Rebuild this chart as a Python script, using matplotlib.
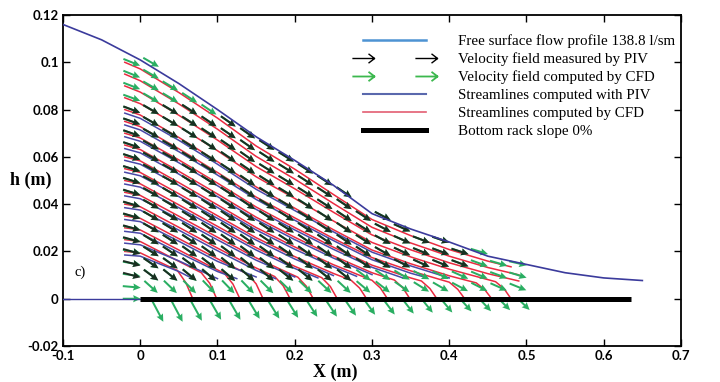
import numpy as np
import matplotlib
matplotlib.use("Agg")
import matplotlib.pyplot as plt
from matplotlib.lines import Line2D
from matplotlib.path import Path
from matplotlib.ticker import FuncFormatter, MultipleLocator
from matplotlib.font_manager import FontProperties

# ---------------- data ----------------
# free surface profile (m)
surface_x = [-0.1, -0.05, 0.0, 0.05, 0.1, 0.15, 0.2, 0.25, 0.3, 0.35, 0.4, 0.45, 0.5, 0.55, 0.6, 0.65]
surface_h = [0.116, 0.1095, 0.101, 0.091, 0.080, 0.0685, 0.0585, 0.048, 0.036, 0.0295, 0.024,
             0.018, 0.0145, 0.011, 0.0088, 0.0077]

# channel bed upstream of the rack and the bottom rack itself
bed_x = [-0.1, 0.0]
bed_h = [0.0, 0.0]
rack_x = [0.0, 0.635]
rack_h = [0.0, 0.0]

# velocity grid (arrow centres)
col_x = [-0.011, 0.014, 0.039, 0.064, 0.089, 0.114, 0.139, 0.164, 0.189, 0.214, 0.239,
         0.264, 0.289, 0.314, 0.339, 0.364, 0.389, 0.414, 0.439, 0.464, 0.489]
row_y = [0.0, 0.005, 0.01, 0.015, 0.02, 0.025, 0.03, 0.035, 0.04, 0.045, 0.05,
         0.055, 0.06, 0.065, 0.07, 0.075, 0.08, 0.085, 0.09, 0.095, 0.1]

# CFD velocity directions (deg), one list per column from its first row upward
cfd_first_row = [0, 1, 1, 1, 1, 1, 1, 1, 1, 1, 1, 1, 1, 1, 1, 1, 1, 1, 1, 1, 1]
cfd_angle = [
    [0, -5, -8, -10, -11, -12, -13, -14, -15, -15, -16, -16, -17, -18, -18, -19, -20, -20, -21, -22, -22],
    [-42, -38, -35, -33, -32, -31, -30, -30, -29, -29, -29, -29, -30, -30, -30, -30, -30, -30, -30, -30],
    [-44, -40, -37, -35, -33, -32, -31, -31, -31, -30, -30, -30, -31, -31, -31, -31, -31, -31],
    [-45, -41, -38, -36, -35, -34, -33, -33, -32, -32, -32, -32, -33, -33, -33, -33, -33],
    [-46, -42, -39, -37, -36, -35, -34, -34, -33, -33, -33, -33, -34, -34, -34, -34],
    [-46, -42, -40, -38, -37, -36, -35, -35, -34, -34, -34, -35, -35, -35, -35],
    [-46, -42, -40, -38, -37, -36, -35, -35, -35, -35, -35, -35, -35, -35],
    [-45, -41, -39, -37, -35, -34, -34, -33, -33, -33, -33, -33, -33],
    [-44, -40, -38, -36, -34, -33, -33, -32, -32, -32, -32, -32],
    [-44, -40, -38, -36, -35, -34, -33, -33, -33, -33, -33],
    [-43, -40, -38, -36, -35, -34, -33, -33, -33, -33],
    [-43, -40, -38, -36, -35, -34, -34, -34, -34],
    [-40, -37, -35, -34, -33, -33, -33],
    [-38, -34, -31, -30, -29, -28, -28],
    [-35, -31, -28, -26, -25, -24],
    [-32, -28, -25, -23, -21],
    [-30, -26, -23, -21, -19],
    [-28, -24, -21, -18],
    [-27, -23, -20, -17],
    [-24, -20, -16],
    [-22, -17, -13],
]

# PIV velocity directions (deg)
piv_first_row = [2, 2, 2, 2, 2, 2, 2, 2, 2, 2, 2, 2, 3, 3, 3, 3, 3, 3]
piv_angle = [
    [-15, -15, -16, -16, -16, -17, -17, -18, -18, -18, -19, -19, -20, -20, -21],
    [-36, -34, -32, -31, -30, -30, -29, -29, -28, -28, -29, -29, -29, -30, -30],
    [-38, -35, -33, -32, -31, -30, -30, -30, -29, -29, -30, -30, -30, -31, -31],
    [-39, -36, -35, -33, -33, -32, -32, -31, -31, -31, -32, -32, -32, -33, -33],
    [-40, -37, -35, -34, -34, -33, -33, -32, -32, -32, -33, -33, -33, -34],
    [-40, -38, -36, -35, -34, -34, -33, -33, -33, -33, -34, -34, -34, -35],
    [-40, -38, -36, -35, -34, -34, -34, -34, -34, -34, -35, -35, -35],
    [-39, -37, -35, -34, -33, -33, -32, -32, -32, -32, -33, -33],
    [-38, -36, -34, -33, -32, -32, -31, -31, -31, -32, -32],
    [-38, -36, -35, -34, -33, -32, -32, -32, -33, -33],
    [-38, -36, -35, -34, -33, -33, -33, -33, -33],
    [-38, -36, -35, -34, -34, -34, -34, -34],
    [-34, -33, -32, -32, -33],
    [-30, -29, -28, -27, -28],
    [-27, -25, -24, -24],
    [-24, -22, -21],
    [-22, -20, -19],
    [-20, -18],
]

# CFD flow leaving through the rack (columns 1..20, tail on the rack)
outflow_angle = [-62, -62, -61, -60, -60, -59, -58, -58, -57, -56, -55, -54, -53, -52, -51,
                 -50, -48, -47, -45, -44]
outflow_speed = [1.45, 1.45, 1.4, 1.35, 1.35, 1.3, 1.3, 1.25, 1.2, 1.2, 1.15, 1.1, 1.1, 1.05,
                 1.0, 1.0, 0.95, 0.95, 0.9, 0.9]

# streamlines computed by CFD
cfd_streamlines = [
    [(-0.02, 0.020), (0.0, 0.0194), (0.025, 0.0155), (0.048, 0.012), (0.059, 0.0068), (0.068, 0.0)],
    [(-0.02, 0.025), (0.0, 0.0242), (0.05, 0.0158), (0.079, 0.011), (0.09, 0.0065), (0.099, 0.0)],
    [(-0.02, 0.030), (0.0, 0.0291), (0.05, 0.0206), (0.08, 0.0155), (0.109, 0.0107), (0.12, 0.0062), (0.129, 0.0)],
    [(-0.02, 0.035), (0.0, 0.034), (0.05, 0.0254), (0.1, 0.0169), (0.139, 0.0104), (0.15, 0.0063), (0.159, 0.0)],
    [(-0.02, 0.040), (0.0, 0.0389), (0.05, 0.0302), (0.1, 0.0214), (0.15, 0.013), (0.174, 0.0094),
     (0.185, 0.0055), (0.194, 0.0)],
    [(-0.02, 0.045), (0.0, 0.0437), (0.05, 0.0349), (0.1, 0.026), (0.15, 0.0173), (0.18, 0.0127),
     (0.204, 0.0091), (0.215, 0.0053), (0.224, 0.0)],
    [(-0.02, 0.050), (0.0, 0.0486), (0.05, 0.0397), (0.1, 0.0306), (0.15, 0.0216), (0.2, 0.0137),
     (0.235, 0.0089), (0.246, 0.0052), (0.255, 0.0)],
    [(-0.02, 0.055), (0.0, 0.0534), (0.05, 0.0444), (0.1, 0.0351), (0.15, 0.0258), (0.2, 0.0178),
     (0.25, 0.0107), (0.273, 0.0078), (0.284, 0.0045), (0.293, 0.0)],
    [(-0.02, 0.060), (0.0, 0.0583), (0.05, 0.0491), (0.1, 0.0397), (0.15, 0.0301), (0.2, 0.0219),
     (0.25, 0.0144), (0.3, 0.0078), (0.311, 0.0045), (0.32, 0.0)],
    [(-0.02, 0.065), (0.0, 0.0631), (0.05, 0.0539), (0.1, 0.0443), (0.15, 0.0345), (0.2, 0.026),
     (0.25, 0.0181), (0.3, 0.011), (0.329, 0.0079), (0.34, 0.0046), (0.349, 0.0)],
    [(-0.02, 0.070), (0.0, 0.068), (0.05, 0.0587), (0.1, 0.0489), (0.15, 0.0388), (0.2, 0.0301),
     (0.25, 0.0218), (0.3, 0.0142), (0.35, 0.0088), (0.364, 0.0075), (0.375, 0.0043), (0.384, 0.0)],
    [(-0.02, 0.075), (0.0, 0.0728), (0.05, 0.0634), (0.1, 0.0534), (0.15, 0.043), (0.2, 0.0342),
     (0.25, 0.0255), (0.3, 0.0174), (0.35, 0.0118), (0.4, 0.007), (0.411, 0.004), (0.42, 0.0)],
    [(-0.02, 0.080), (0.0, 0.0777), (0.05, 0.0682), (0.1, 0.058), (0.15, 0.0473), (0.2, 0.0383),
     (0.25, 0.0292), (0.3, 0.0206), (0.35, 0.0148), (0.4, 0.0097), (0.435, 0.0067), (0.446, 0.0038),
     (0.455, 0.0)],
    [(-0.02, 0.085), (0.0, 0.0825), (0.05, 0.0729), (0.1, 0.0626), (0.15, 0.0516), (0.2, 0.0424),
     (0.25, 0.0329), (0.3, 0.0238), (0.35, 0.0177), (0.4, 0.0125), (0.46, 0.0072), (0.471, 0.0042),
     (0.48, 0.0)],
    [(-0.02, 0.090), (0.0, 0.0874), (0.05, 0.0776), (0.1, 0.0671), (0.15, 0.0559), (0.2, 0.0465),
     (0.25, 0.0366), (0.3, 0.027), (0.35, 0.0207), (0.4, 0.0152), (0.45, 0.0106), (0.49, 0.0075)],
    [(-0.02, 0.095), (0.0, 0.0922), (0.05, 0.0824), (0.1, 0.0717), (0.15, 0.0602), (0.2, 0.0506),
     (0.25, 0.0403), (0.3, 0.0302), (0.35, 0.0236), (0.4, 0.018), (0.45, 0.0132), (0.49, 0.0101)],
    [(-0.02, 0.100), (0.0, 0.0972), (0.05, 0.0872), (0.1, 0.0764), (0.15, 0.0646), (0.2, 0.0548),
     (0.25, 0.0441), (0.3, 0.0335), (0.35, 0.0267), (0.4, 0.0208), (0.45, 0.0159), (0.48, 0.0135)],
]

# streamlines computed with PIV
piv_streamlines = [
    [(-0.02, 0.0185), (0.0, 0.018), (0.05, 0.0115), (0.068, 0.0085)],
    [(-0.02, 0.0235), (0.0, 0.0228), (0.05, 0.016), (0.1, 0.0085)],
    [(-0.02, 0.0285), (0.0, 0.0277), (0.05, 0.0195), (0.1, 0.0115), (0.125, 0.0085)],
    [(-0.02, 0.0335), (0.0, 0.0326), (0.05, 0.0243), (0.1, 0.0158), (0.15, 0.0092)],
    [(-0.02, 0.0385), (0.0, 0.0375), (0.05, 0.029), (0.1, 0.0203), (0.15, 0.012), (0.175, 0.0085)],
    [(-0.02, 0.0435), (0.0, 0.0423), (0.05, 0.0337), (0.1, 0.0249), (0.15, 0.0163), (0.2, 0.0092)],
    [(-0.02, 0.0485), (0.0, 0.0472), (0.05, 0.0385), (0.1, 0.0295), (0.15, 0.0206), (0.2, 0.0128),
     (0.23, 0.0088)],
    [(-0.02, 0.0535), (0.0, 0.052), (0.05, 0.0432), (0.1, 0.034), (0.15, 0.0248), (0.2, 0.0168),
     (0.25, 0.0098)],
    [(-0.02, 0.0585), (0.0, 0.0569), (0.05, 0.0479), (0.1, 0.0386), (0.15, 0.0291), (0.2, 0.0209),
     (0.25, 0.0135), (0.28, 0.0095)],
    [(-0.02, 0.0635), (0.0, 0.0617), (0.05, 0.0527), (0.1, 0.0432), (0.15, 0.0335), (0.2, 0.025),
     (0.25, 0.0172), (0.3, 0.0102)],
    [(-0.02, 0.0685), (0.0, 0.0666), (0.05, 0.0575), (0.1, 0.0478), (0.15, 0.0378), (0.2, 0.0291),
     (0.25, 0.0209), (0.3, 0.0133), (0.34, 0.0088)],
    [(-0.02, 0.0735), (0.0, 0.0714), (0.05, 0.0622), (0.1, 0.0523), (0.15, 0.042), (0.2, 0.0332),
     (0.25, 0.0246), (0.3, 0.0165), (0.35, 0.0108), (0.37, 0.009)],
    [(-0.02, 0.0785), (0.0, 0.0763), (0.05, 0.067), (0.1, 0.0569), (0.15, 0.0463), (0.2, 0.0373),
     (0.25, 0.0283), (0.3, 0.0197), (0.35, 0.0139), (0.4, 0.0088)],
]

legend_labels = [
    "Free surface flow profile 138.8 l/sm",
    "Velocity field measured by PIV",
    "Velocity field computed by CFD",
    "Streamlines computed with PIV",
    "Streamlines computed by CFD",
    "Bottom rack slope 0%",
]

# ---------------- style ----------------
plt.rcParams["font.family"] = ["Lato", "DejaVu Sans"]
plt.rcParams["font.weight"] = "bold"

SURFACE_C = "#3b3b9c"
PIV_LINE_C = "#4848a8"
CFD_LINE_C = "#ea2a40"
CFD_ARROW_C = "#2aae62"
PIV_ARROW_C = "#18241c"
ARROW_PX = 18.0

fig = plt.figure(figsize=(7.2, 3.82), dpi=100)
ax = fig.add_axes([0.0875, 0.0942, 0.8583, 0.8665])


def grid_vectors(first_rows, table):
    xs, ys, us, vs = [], [], [], []
    for k, (j0, angs) in enumerate(zip(first_rows, table)):
        for i, a in enumerate(angs):
            r = np.deg2rad(a)
            xs.append(col_x[k])
            ys.append(row_y[j0 + i])
            us.append(np.cos(r))
            vs.append(np.sin(r))
    return xs, ys, us, vs


arrow_kw = dict(angles="uv", scale_units="inches", scale=100.0 / ARROW_PX,
                units="dots", width=2.0, headwidth=3.6, headlength=3.8,
                headaxislength=3.4)

# streamlines
for line in cfd_streamlines:
    xs, ys = zip(*line)
    ax.plot(xs, ys, color=CFD_LINE_C, lw=1.1, zorder=2)
for line in piv_streamlines:
    xs, ys = zip(*line)
    ax.plot(xs, ys, color=PIV_LINE_C, lw=1.1, zorder=2.1)

# velocity fields
x, y, u, v = grid_vectors(cfd_first_row, cfd_angle)
ax.quiver(x, y, u, v, color=CFD_ARROW_C, pivot="mid", zorder=3, **arrow_kw)

r = np.deg2rad(outflow_angle)
sp = np.asarray(outflow_speed)
ax.quiver(col_x[1:], [row_y[0]] * len(outflow_angle), sp * np.cos(r), sp * np.sin(r),
          color=CFD_ARROW_C, pivot="tail", zorder=3, **arrow_kw)

x, y, u, v = grid_vectors(piv_first_row, piv_angle)
ax.quiver(x, y, u, v, color=PIV_ARROW_C, pivot="mid", zorder=4, alpha=0.92, **arrow_kw)

# free surface, bed and rack
ax.plot(surface_x, surface_h, color=SURFACE_C, lw=1.2, zorder=5)
ax.plot(bed_x, bed_h, color=SURFACE_C, lw=1.0, zorder=5)
ax.plot(rack_x, rack_h, color="black", lw=3.6, solid_capstyle="butt", zorder=6)

ax.text(-0.078, 0.0112, "c)", family="Liberation Serif", fontsize=10.5, fontweight="normal",
        ha="center", va="center")

# axes
ax.set_xlim(-0.1, 0.7)
ax.set_ylim(-0.02, 0.12)
ax.xaxis.set_major_locator(MultipleLocator(0.1))
ax.yaxis.set_major_locator(MultipleLocator(0.02))


def fmt(val, pos):
    if abs(val) < 1e-9:
        return "0"
    return f"{val:.3f}".rstrip("0").rstrip(".")


ax.xaxis.set_major_formatter(FuncFormatter(fmt))
ax.yaxis.set_major_formatter(FuncFormatter(fmt))
ax.tick_params(direction="in", top=True, right=True, length=5, width=1.0,
               labelsize=9.5, pad=3)
for s in ax.spines.values():
    s.set_linewidth(1.3)

fig.text(0.465, 0.026, "X (m)", family="Liberation Serif", fontsize=13, fontweight="bold",
         ha="center", va="center")
fig.text(0.043, 0.529, "h (m)", family="Liberation Serif", fontsize=13, fontweight="bold",
         ha="center", va="center")

# legend: thin open arrow glyph for the vector entries
arrow_marker = Path([(-1.0, 0.0), (1.0, 0.0), (0.45, 0.42), (1.0, 0.0), (0.45, -0.42)],
                    [Path.MOVETO, Path.LINETO, Path.MOVETO, Path.LINETO, Path.LINETO])
handles = [
    Line2D([], [], color="#4d93d3", lw=1.8),
    Line2D([], [], color="black", ls="none", marker=arrow_marker, markersize=16,
           markerfacecolor="none", markeredgewidth=1.0),
    Line2D([], [], color="#3cb84e", ls="none", marker=arrow_marker, markersize=16,
           markerfacecolor="none", markeredgewidth=1.3),
    Line2D([], [], color="#5a68ad", lw=1.5),
    Line2D([], [], color="#e35d72", lw=1.2),
    Line2D([], [], color="black", lw=3.6),
]
ax.legend(handles, legend_labels, loc="upper left", bbox_to_anchor=(0.478, 0.942),
          frameon=False, numpoints=2, handlelength=4.8, handletextpad=1.85,
          labelspacing=0.29, borderaxespad=0, borderpad=0,
          prop=FontProperties(family="Liberation Serif", size=10.8, weight="normal"))

fig.savefig("out.png", dpi=100)
